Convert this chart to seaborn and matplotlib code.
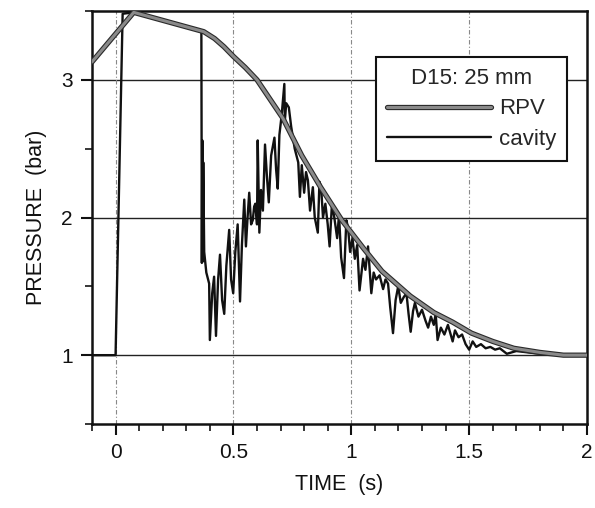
import matplotlib
matplotlib.use("Agg")
import matplotlib.pyplot as plt
import matplotlib.patheffects as pe
from matplotlib.lines import Line2D
from matplotlib.ticker import MultipleLocator
import seaborn as sns
import pandas as pd

sns.set_style("white")
plt.rcParams['font.family'] = ['Liberation Sans', 'DejaVu Sans']

rpv_t = [-0.10, 0.077, 0.374, 0.42, 0.46, 0.50, 0.55, 0.60, 0.71, 0.79, 0.87, 0.96, 1.05,
         1.13, 1.25, 1.35, 1.43, 1.51, 1.60, 1.69, 1.80, 1.90, 2.00]
rpv_p = [3.13, 3.49, 3.35, 3.30, 3.24, 3.17, 3.09, 3.00, 2.72, 2.45, 2.22, 1.98, 1.78,
         1.61, 1.43, 1.31, 1.24, 1.16, 1.10, 1.05, 1.02, 1.00, 1.00]

cav_t = [-0.10, 0.000, 0.030, 0.077, 0.20, 0.364, 0.366, 0.368, 0.370, 0.372,
         0.376, 0.385, 0.397, 0.400, 0.410, 0.418, 0.426, 0.435, 0.443, 0.452,
         0.461, 0.470, 0.482, 0.490, 0.499, 0.508, 0.518, 0.528, 0.536, 0.546,
         0.553, 0.560, 0.567, 0.575, 0.582, 0.588, 0.593, 0.600, 0.603, 0.610,
         0.617, 0.625, 0.634, 0.642, 0.650, 0.660, 0.674, 0.681, 0.688, 0.695,
         0.705, 0.716, 0.718, 0.724, 0.735, 0.745, 0.760, 0.775, 0.782, 0.790,
         0.800, 0.808, 0.816, 0.825, 0.837, 0.845, 0.858, 0.865, 0.872, 0.880,
         0.890, 0.900, 0.908, 0.918, 0.928, 0.940, 0.948, 0.957, 0.969, 0.979,
         0.986, 0.995, 1.005, 1.015, 1.025, 1.035, 1.050, 1.060, 1.071, 1.085,
         1.095, 1.105, 1.120, 1.135, 1.145, 1.156, 1.165, 1.177, 1.188, 1.199,
         1.210, 1.222, 1.234, 1.243, 1.252, 1.262, 1.270, 1.285, 1.300, 1.315,
         1.326, 1.338, 1.350, 1.358, 1.366, 1.380, 1.395, 1.410, 1.430, 1.440,
         1.455, 1.470, 1.485, 1.500, 1.515, 1.530, 1.550, 1.570, 1.590, 1.610,
         1.630, 1.660, 1.700, 1.750, 1.800, 1.900, 2.000]
cav_p = [1.00, 1.00, 3.48, 3.49, 3.43, 3.35, 1.67, 2.56, 1.68, 2.40,
         1.75, 1.60, 1.52, 1.11, 1.45, 1.57, 1.14, 1.55, 1.73, 1.40,
         1.30, 1.65, 1.91, 1.55, 1.45, 1.75, 1.95, 1.39, 1.80, 2.13,
         1.79, 2.00, 2.18, 1.95, 1.98, 2.08, 2.10, 1.95, 2.56, 1.89,
         2.20, 2.05, 2.53, 2.30, 2.11, 2.45, 2.58, 2.35, 2.21, 2.60,
         2.75, 2.97, 2.70, 2.83, 2.80, 2.66, 2.50, 2.40, 2.15, 2.38,
         2.18, 2.33, 2.27, 2.05, 2.22, 2.00, 1.89, 2.26, 2.22, 2.00,
         2.10, 1.95, 1.79, 2.10, 2.00, 1.85, 2.02, 1.71, 1.56, 1.98,
         1.93, 1.75, 1.85, 1.70, 1.80, 1.47, 1.70, 1.62, 1.79, 1.45,
         1.60, 1.55, 1.58, 1.48, 1.55, 1.52, 1.35, 1.16, 1.40, 1.50,
         1.38, 1.42, 1.45, 1.30, 1.17, 1.32, 1.38, 1.28, 1.33, 1.25,
         1.20, 1.28, 1.22, 1.30, 1.11, 1.20, 1.15, 1.22, 1.10, 1.18,
         1.13, 1.15, 1.08, 1.04, 1.10, 1.06, 1.08, 1.05, 1.06, 1.04,
         1.05, 1.01, 1.03, 1.02, 1.01, 1.00, 1.00]

legend_title = "D15: 25 mm"
series_labels = ["RPV", "cavity"]

rpv_df = pd.DataFrame({"t": rpv_t, "p": rpv_p})
cav_df = pd.DataFrame({"t": cav_t, "p": cav_p})

fig = plt.figure(figsize=(5.95, 5.08), dpi=100)
ax = fig.add_axes([92 / 595, 1 - 424 / 508, 495 / 595, 413 / 508])

# grid
for yv in [1, 2, 3]:
    ax.axhline(yv, color="#222222", lw=1.0, zorder=1)
for xv in [0, 0.5, 1.0, 1.5]:
    ax.axvline(xv, color="#888888", lw=0.8, ls=(0, (4, 2, 1, 2)), zorder=1)

rpv_style = dict(color="#8a8a8a", lw=2.2,
                 path_effects=[pe.Stroke(linewidth=3.8, foreground="#2a2a2a"), pe.Normal()])
sns.lineplot(data=cav_df, x="t", y="p", sort=False, estimator=None, ax=ax,
             color="#111111", lw=1.7, zorder=3)
sns.lineplot(data=rpv_df, x="t", y="p", sort=False, estimator=None, ax=ax,
             zorder=4, **rpv_style)

ax.set_xlim(-0.1, 2.0)
ax.set_ylim(0.5, 3.5)
ax.xaxis.set_minor_locator(MultipleLocator(0.1))
ax.yaxis.set_minor_locator(MultipleLocator(0.5))
ax.set_xticks([0, 0.5, 1, 1.5, 2])
ax.set_xticklabels(["0", "0.5", "1", "1.5", "2"])
ax.set_yticks([1, 2, 3])
ax.set_yticklabels(["1", "2", "3"])
ax.tick_params(axis="both", which="major", direction="out", length=8, width=1.5,
               labelsize=15, colors="#111111", pad=6)
ax.tick_params(axis="both", which="minor", direction="out", length=5, width=1.3)
ax.tick_params(bottom=True, left=True, top=False, right=False, which="both")

for s in ax.spines.values():
    s.set_visible(True)
    s.set_color("#111111")
    s.set_linewidth(1.8)

ax.set_xlabel("TIME  (s)", fontsize=15.5, color="#111111", labelpad=8)
ax.set_ylabel("PRESSURE  (bar)", fontsize=15.5, color="#111111", labelpad=10)

handles = [Line2D([0], [0], **rpv_style),
           Line2D([0], [0], color="#111111", lw=1.7)]
leg = ax.legend(handles, series_labels, title=legend_title, loc="upper right",
                bbox_to_anchor=(0.96, 0.889), borderaxespad=0, fontsize=16,
                title_fontsize=16, handlelength=4.7, frameon=True, fancybox=False,
                framealpha=1, edgecolor="#111111", borderpad=0.5, labelspacing=0.42,
                handletextpad=0.35)
leg.get_frame().set_linewidth(1.5)
leg.set_zorder(10)

fig.savefig("out.png", dpi=100)
